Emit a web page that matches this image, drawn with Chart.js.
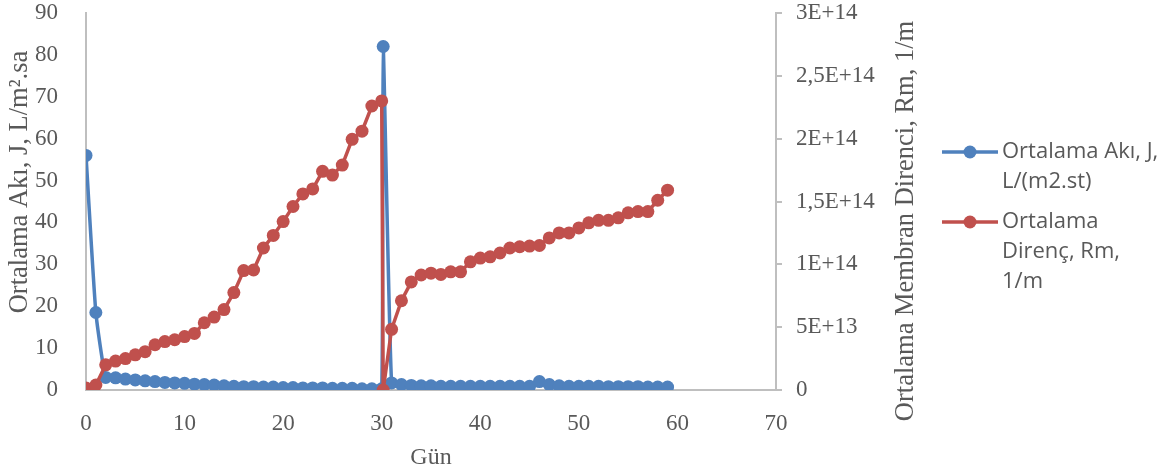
<!DOCTYPE html>
<html>
<head>
<meta charset="utf-8">
<script src="https://cdn.jsdelivr.net/npm/chart.js@4"></script>
<style>
  html, body { margin: 0; padding: 0; background: #ffffff; }
  #wrap { position: relative; width: 1163px; height: 476px; }
</style>
</head>
<body>
<div id="wrap"><canvas id="c" width="1163" height="476"></canvas></div>
<script>
// ---- data ----
const days = [0,1,2,3,4,5,6,7,8,9,10,11,12,13,14,15,16,17,18,19,20,21,22,23,24,25,26,27,28,29,30,
              30.15,31,32,33,34,35,36,37,38,39,40,41,42,43,44,45,46,47,48,49,50,51,52,53,54,55,56,57,58,59];
const fluxValues = [56,18.5,3.0,2.9,2.6,2.4,2.2,2.0,1.8,1.7,1.6,1.4,1.3,1.2,1.0,0.9,0.8,0.8,0.7,0.7,0.6,0.6,0.5,0.5,0.5,0.4,0.4,0.4,0.3,0.3,0.3,
                    82,1.7,1.3,1.1,1.0,1.0,0.9,0.9,0.9,0.9,0.9,0.9,0.9,0.9,0.9,0.9,2.0,1.3,1.0,0.9,0.9,0.9,0.9,0.8,0.8,0.8,0.8,0.7,0.7,0.7];
const resistanceValues = [0.15e13,0.4e13,2.0e13,2.3e13,2.5e13,2.8e13,3.05e13,3.6e13,3.85e13,4.0e13,4.25e13,4.5e13,5.35e13,5.8e13,6.4e13,7.75e13,
                          9.5e13,9.55e13,11.3e13,12.3e13,13.4e13,14.6e13,15.6e13,16.0e13,17.4e13,17.1e13,17.9e13,19.95e13,20.6e13,22.6e13,23.0e13,
                          0,4.83e13,7.1e13,8.6e13,9.15e13,9.3e13,9.2e13,9.4e13,9.4e13,10.2e13,10.5e13,10.6e13,10.9e13,11.3e13,11.4e13,11.45e13,
                          11.5e13,12.1e13,12.5e13,12.5e13,12.9e13,13.3e13,13.5e13,13.5e13,13.7e13,14.1e13,14.2e13,14.2e13,15.1e13,15.9e13];
const xTicks = [0,10,20,30,40,50,60,70];
const leftTicks = [0,10,20,30,40,50,60,70,80,90];
const rightTicks = [0,5e13,1e14,1.5e14,2e14,2.5e14,3e14];
const rightTickLabels = ['0','5E+13','1E+14','1,5E+14','2E+14','2,5E+14','3E+14'];
const seriesNames = [['Ortalama Akı, J,','L/(m2.st)'], ['Ortalama','Direnç, Rm,','1/m']];
const xTitle = 'Gün';
const leftTitle = 'Ortalama Akı, J, L/m².sa';
const rightTitle = 'Ortalama Membran Direnci, Rm, 1/m';

const BLUE = '#4F81BD', RED = '#C0504D', TXT = '#595959', AXIS = '#BFBFBF';
const serif = "'Liberation Serif', 'Times New Roman', serif";
Chart.defaults.font.family = serif;
Chart.defaults.color = TXT;

const fluxPts = days.map((d, i) => ({x: d, y: fluxValues[i]}));
const resPts = days.map((d, i) => ({x: d, y: resistanceValues[i]}));

const titlesAndLegend = {
  id: 'titlesAndLegend',
  afterDraw(chart) {
    const ctx = chart.ctx;
    const ca = chart.chartArea;
    ctx.save();
    ctx.fillStyle = TXT;
    ctx.textAlign = 'center';
    ctx.textBaseline = 'middle';
    ctx.font = '24px ' + serif;
    ctx.fillText(xTitle, (ca.left + ca.right) / 2, 458);
    ctx.font = '26.5px ' + serif;
    ctx.save();
    ctx.translate(20, 182);
    ctx.rotate(-Math.PI / 2);
    ctx.fillText(leftTitle, 0, 0);
    ctx.restore();
    ctx.save();
    ctx.translate(906, 221);
    ctx.rotate(-Math.PI / 2);
    ctx.fillText(rightTitle, 0, 0);
    ctx.restore();

    const items = [
      {color: BLUE, lines: seriesNames[0], y: 152},
      {color: RED, lines: seriesNames[1], y: 222}
    ];
    ctx.font = "22px 'Open Sans', Lato, sans-serif";
    ctx.textAlign = 'left';
    for (const it of items) {
      ctx.strokeStyle = it.color;
      ctx.lineWidth = 3.5;
      ctx.beginPath();
      ctx.moveTo(942, it.y);
      ctx.lineTo(998, it.y);
      ctx.stroke();
      ctx.fillStyle = it.color;
      ctx.beginPath();
      ctx.arc(970, it.y, 6.5, 0, Math.PI * 2);
      ctx.fill();
      ctx.fillStyle = TXT;
      it.lines.forEach((t, k) => ctx.fillText(t, 1002, it.y + k * 30));
    }
    ctx.restore();
  }
};

new Chart(document.getElementById('c'), {
  type: 'line',
  data: {
    datasets: [
      {
        label: 'Ortalama Direnç, Rm, 1/m',
        data: resPts,
        yAxisID: 'y2',
        borderColor: RED,
        backgroundColor: RED,
        borderWidth: 3.5,
        pointRadius: 6.5,
        pointBorderWidth: 0,
        pointBackgroundColor: RED,
        tension: 0,
        order: 0
      },
      {
        label: 'Ortalama Akı, J, L/(m2.st)',
        data: fluxPts,
        yAxisID: 'y',
        borderColor: BLUE,
        backgroundColor: BLUE,
        borderWidth: 3.5,
        pointRadius: 6.5,
        pointBorderWidth: 0,
        pointBackgroundColor: BLUE,
        tension: 0.15,
        order: 1
      }
    ]
  },
  options: {
    responsive: false,
    animation: false,
    layout: { padding: { top: 13, left: 0, right: 0, bottom: 0 } },
    plugins: { legend: { display: false }, tooltip: { enabled: false } },
    scales: {
      x: {
        type: 'linear',
        min: 0, max: 70,
        afterBuildTicks: s => { s.ticks = xTicks.map(v => ({value: v})); },
        afterFit: s => { s.height = 86; s.paddingLeft = 0; s.paddingRight = 0; },
        grid: { display: false },
        border: { display: true, color: AXIS, width: 2 },
        ticks: { color: TXT, font: { family: serif, size: 23 }, padding: 12, maxRotation: 0 }
      },
      y: {
        position: 'left',
        min: 0, max: 90,
        afterBuildTicks: s => { s.ticks = leftTicks.map(v => ({value: v})); },
        afterFit: s => { s.width = 86; s.paddingTop = 0; s.paddingBottom = 0; },
        grid: { display: false },
        border: { display: true, color: AXIS, width: 2 },
        ticks: { color: TXT, font: { family: serif, size: 23 }, padding: 20 }
      },
      y2: {
        position: 'right',
        min: 0, max: 3e14,
        afterBuildTicks: s => { s.ticks = rightTicks.map(v => ({value: v})); },
        afterFit: s => { s.width = 387; s.paddingTop = 0; s.paddingBottom = 0; },
        grid: { display: true, drawOnChartArea: false, drawTicks: true, tickLength: 6, color: AXIS, lineWidth: 2 },
        border: { display: true, color: AXIS, width: 2 },
        ticks: {
          color: TXT, font: { family: serif, size: 23 }, padding: 14,
          callback: (v) => { const i = rightTicks.indexOf(v); return i >= 0 ? rightTickLabels[i] : ''; }
        }
      }
    }
  },
  plugins: [titlesAndLegend]
});
</script>
</body>
</html>
